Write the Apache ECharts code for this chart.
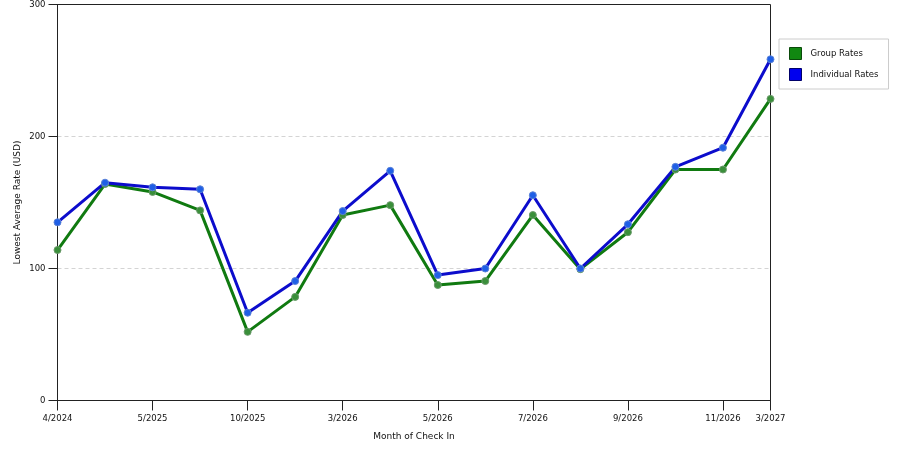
<!DOCTYPE html>
<html>
<head>
<meta charset="utf-8">
<script src="https://cdn.jsdelivr.net/npm/echarts@6/dist/echarts.min.js"></script>
<style>
  html, body { margin: 0; padding: 0; background: #fff; }
  #chart { width: 900px; height: 450px; }
</style>
</head>
<body>
<div id="chart"></div>
<script>
var months = ['4/2024', '3/2025', '5/2025', '7/2025', '10/2025', '12/2025', '3/2026', '4/2026',
              '5/2026', '6/2026', '7/2026', '8/2026', '9/2026', '10/2026', '11/2026', '3/2027'];
var groupRates = [114, 164, 158, 144, 52, 78.5, 140.5, 148, 87.5, 90.5, 140.5, 99.5, 127.5, 175, 175, 228.5];
var individualRates = [135, 165, 161.5, 160, 66.5, 90.5, 143.5, 174, 95, 100, 155.5, 100, 133.5, 177, 191.5, 258.5];
var yTicks = [0, 100, 200, 300];

var font = 'DejaVu Sans';
var textColor = '#111';

// labels only on every other month plus the last one
function showLabel(i) {
  return i % 2 === 0 || i === months.length - 1;
}

var chart = echarts.init(document.getElementById('chart'), null, { renderer: 'canvas' });

var option = {
  animation: false,
  backgroundColor: '#fff',
  grid: {
    left: 57.5, right: 129.5, top: 4.5, bottom: 49.5,
    show: true, borderColor: '#222', borderWidth: 1
  },
  legend: {
    orient: 'vertical',
    left: 779, top: 39,
    padding: [8, 10, 8, 10],
    itemGap: 8,
    itemWidth: 12, itemHeight: 12,
    icon: 'rect',
    backgroundColor: '#fff',
    borderColor: '#ccc', borderWidth: 1,
    textStyle: { fontFamily: font, fontSize: 8.5, color: textColor, padding: [0, 0, 0, 4] },
    data: [
      { name: 'Group Rates', itemStyle: { color: '#118811', borderColor: '#0a4a0a', borderWidth: 1 } },
      { name: 'Individual Rates', itemStyle: { color: '#0000ee', borderColor: '#00006a', borderWidth: 1 } }
    ]
  },
  xAxis: {
    type: 'category',
    data: months,
    boundaryGap: false,
    name: 'Month of Check In',
    nameLocation: 'middle',
    nameGap: 32,
    nameTextStyle: { fontFamily: font, fontSize: 9, color: textColor },
    axisLine: { lineStyle: { color: '#222', width: 1 } },
    axisTick: { length: 10, interval: function (i) { return showLabel(i); }, lineStyle: { color: '#222' } },
    axisLabel: {
      interval: function (i) { return showLabel(i); },
      margin: 14,
      fontFamily: font, fontSize: 8.5, color: textColor
    },
    splitLine: { show: false }
  },
  yAxis: {
    type: 'value',
    min: yTicks[0], max: yTicks[yTicks.length - 1], interval: 100,
    name: 'Lowest Average Rate (USD)',
    nameLocation: 'middle',
    nameGap: 35,
    nameMoveOverlap: false,
    nameTextStyle: { fontFamily: font, fontSize: 9, color: textColor },
    axisLine: { show: true, lineStyle: { color: '#222', width: 1 } },
    axisTick: { show: true, length: 9, lineStyle: { color: '#222' } },
    axisLabel: { margin: 12, fontFamily: font, fontSize: 8.5, color: textColor },
    splitLine: { show: true, showMaxLine: false, showMinLine: false, lineStyle: { color: '#d4d4d4', type: [4, 3] } }
  },
  series: [
    {
      name: 'Group Rates',
      type: 'line',
      data: groupRates,
      symbol: 'circle',
      symbolSize: 7,
      lineStyle: { color: '#107a10', width: 3 },
      itemStyle: { color: '#3a8f3a', borderColor: '#6a9a6a', borderWidth: 1 }
    },
    {
      name: 'Individual Rates',
      type: 'line',
      data: individualRates,
      symbol: 'circle',
      symbolSize: 7,
      lineStyle: { color: '#0c0ccc', width: 3 },
      itemStyle: { color: '#1f5fe6', borderColor: '#5a82d8', borderWidth: 1 }
    }
  ]
};

chart.setOption(option);
</script>
</body>
</html>
